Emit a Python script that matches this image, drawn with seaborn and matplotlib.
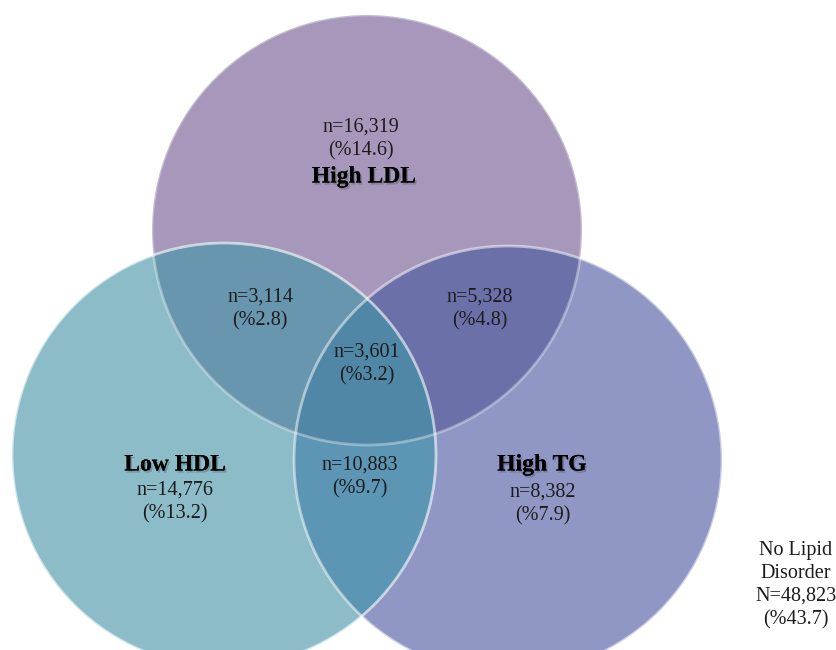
import numpy as np
import seaborn as sns
import matplotlib.pyplot as plt
import matplotlib.patheffects as pe
from matplotlib.patches import Circle, Polygon

# %%
set_names = ["High LDL", "Low HDL", "High TG"]
region_keys = ["100", "010", "001", "110", "101", "011", "111"]
region_n = [16319, 14776, 8382, 3114, 5328, 10883, 3601]
region_pct = [14.6, 13.2, 7.9, 2.8, 4.8, 9.7, 3.2]
none_n = 48823
none_pct = 43.7

# %%
sns.set_theme(style="white")
plt.rcParams['font.family'] = ['Liberation Serif', 'DejaVu Serif']

fig = plt.figure(figsize=(8.37, 6.5), dpi=100)
ax = fig.add_axes([0, 0, 1, 1])
ax.set_xlim(0, 837)
ax.set_ylim(650, 0)
ax.set_aspect('equal')
ax.axis('off')

# circle geometry (pixel space) and fills
centers = {"100": (367, 230), "010": (224, 455), "001": (508, 460)}
radii = {"100": 215, "010": 212, "001": 214}
fills = {"100": "#A798BB", "010": "#8BBCC8", "001": "#9097C5",
         "110": "#6896AF", "101": "#6C70A8", "011": "#5C96B4",
         "111": "#5087A6"}

def circ(key, **kw):
    return Circle(centers[key], radii[key], **kw)

# single sets
for key in ["100", "001", "010"]:
    ax.add_patch(circ(key, facecolor=fills[key], edgecolor='none', zorder=1))

# pair overlaps: circle A clipped by circle B
pairs = {"110": ("100", "010"), "101": ("100", "001"), "011": ("010", "001")}
for key, (a, b) in pairs.items():
    clip = circ(b, transform=ax.transData, facecolor='none')
    p = circ(a, facecolor=fills[key], edgecolor='none', zorder=2)
    ax.add_patch(p)
    p.set_clip_path(clip)

# triple overlap: lens of left & right clipped by top
t = np.linspace(0, 2 * np.pi, 2000)
pts = []
for a, b in [("010", "001"), ("001", "010")]:
    cx, cy = centers[a]
    x = cx + radii[a] * np.cos(t)
    y = cy + radii[a] * np.sin(t)
    bx, by = centers[b]
    inside = (x - bx) ** 2 + (y - by) ** 2 <= radii[b] ** 2
    pts.append(np.column_stack([x[inside], y[inside]]))
pts = np.vstack(pts)
mid = pts.mean(axis=0)
order = np.argsort(np.arctan2(pts[:, 1] - mid[1], pts[:, 0] - mid[0]))
lens = Polygon(pts[order], closed=True, facecolor=fills["111"], edgecolor='none', zorder=3)
ax.add_patch(lens)
lens.set_clip_path(circ("100", transform=ax.transData, facecolor='none'))

# glossy rims
rim_alpha = {"100": 0.35, "001": 0.5, "010": 0.6}
for key in ["100", "001", "010"]:
    ax.add_patch(circ(key, facecolor='none', edgecolor='white', lw=2.0,
                      alpha=rim_alpha[key], zorder=4))

# %%
txt_color = '#1c1c1c'
shadow = [pe.withSimplePatchShadow(offset=(1.2, -1.5), shadow_rgbFace='black', alpha=0.2), pe.Normal()]

label_pos = {"100": (364, 177), "010": (175, 465), "001": (542, 465)}
num_pos = {"100": (361, 127), "010": (175, 490), "001": (543, 492),
           "110": (260, 297), "101": (480, 297), "011": (360, 465),
           "111": (367, 352)}

for i, key in enumerate(["100", "010", "001"]):
    ax.text(*label_pos[key], set_names[i], ha='center', va='center', fontsize=17,
            fontweight='bold', color='black', path_effects=shadow, zorder=6)

for key, n, pct in zip(region_keys, region_n, region_pct):
    x, y = num_pos[key]
    ax.text(x, y, f"n={n:,}", ha='center', va='center', fontsize=14.5, color=txt_color, zorder=6)
    ax.text(x, y + 24, f"(%{pct})", ha='center', va='center', fontsize=14.5, color=txt_color, zorder=6)

ax.text(796, 585, f"No Lipid\nDisorder\nN={none_n:,}\n(%{none_pct})", ha='center', va='center',
        fontsize=14.5, color=txt_color, linespacing=1.3, zorder=6)

fig.savefig('out.png', dpi=100)
